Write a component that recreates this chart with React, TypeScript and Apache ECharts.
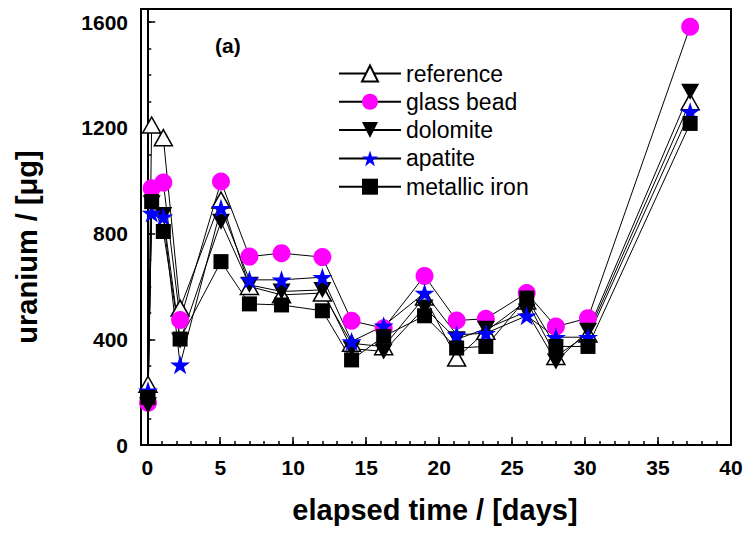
import React, { useEffect, useRef } from "react";
import * as echarts from "echarts";

const times = [0.05, 0.3, 1.1, 2.25, 5.05, 7.0, 9.2, 12.0, 14.0, 16.2, 19.0, 21.2, 23.2, 26.0, 28.0, 30.2, 37.2];
const reference = [230, 1211, 1163, 518, 927, 600, 568, 575, 385, 372, 560, 329, 430, 545, 335, 420, 1299];
const glassBead = [160, 972, 993, 473, 997, 713, 726, 711, 470, 442, 640, 471, 478, 575, 448, 480, 1583];
const dolomite = [150, 915, 870, 395, 845, 606, 581, 587, 365, 354, 520, 400, 440, 505, 316, 432, 1337];
const apatite = [205, 878, 864, 304, 896, 625, 625, 635, 392, 451, 575, 417, 423, 489, 408, 408, 1261];
const metallicIron = [180, 921, 808, 401, 694, 534, 530, 508, 322, 411, 489, 367, 373, 556, 373, 373, 1217];

const xMajor = [0, 5, 10, 15, 20, 25, 30, 35, 40];
const xMinor = Array.from({ length: 41 }, (_, i) => i);
const yMajor = [0, 400, 800, 1200, 1600];
const yMinor = Array.from({ length: 17 }, (_, i) => i * 100);

const FONT = "'Liberation Sans', Arial, sans-serif";
const STAR = "path://M50,0 L61.2,34.5 L97.6,34.5 L68.2,55.9 L79.4,90.5 L50,69.1 L20.6,90.5 L31.8,55.9 L2.4,34.5 L38.8,34.5 Z";

const pts = (vals: number[]) => times.map((t, i) => [t, vals[i]]);

export default function App() {
  const ref = useRef<HTMLDivElement>(null);
  useEffect(() => {
    document.body.style.margin = "0";
    const chart = echarts.init(ref.current!, null, { renderer: "svg" });
    const line = { color: "#000", width: 1 };
    const axisCommon = {
      type: "value" as const,
      splitLine: { show: false },
    };
    chart.setOption({
      animation: false,
      backgroundColor: "#fff",
      grid: { left: 141, right: 15, top: 9, bottom: 89, show: true, borderColor: "#000", borderWidth: 2 },
      xAxis: [
        {
          ...axisCommon,
          min: -0.43,
          max: 40,
          position: "bottom",
          axisLine: { show: true, lineStyle: { color: "#000", width: 2 } },
          axisTick: { show: true, inside: true, length: 8, customValues: xMajor, lineStyle: { color: "#000", width: 1.5 } },
          axisLabel: { customValues: xMajor, fontSize: 21, fontWeight: "bold", color: "#000", fontFamily: FONT, margin: 12, formatter: (v: number) => String(v) },
        },
        {
          ...axisCommon,
          min: -0.43,
          max: 40,
          position: "bottom",
          axisLine: { show: false },
          axisTick: { show: true, inside: true, length: 4, customValues: xMinor, lineStyle: { color: "#000", width: 1.5 } },
          axisLabel: { show: false },
        },
      ],
      yAxis: [
        {
          ...axisCommon,
          min: 0,
          max: 1650,
          position: "left",
          axisLine: { show: true, lineStyle: { color: "#000", width: 2 } },
          axisTick: { show: true, inside: true, length: 8, customValues: yMajor, lineStyle: { color: "#000", width: 1.5 } },
          axisLabel: { customValues: yMajor, fontSize: 21, fontWeight: "bold", color: "#000", fontFamily: FONT, margin: 13, formatter: (v: number) => String(v) },
        },
        {
          ...axisCommon,
          min: 0,
          max: 1650,
          position: "left",
          axisLine: { show: false },
          axisTick: { show: true, inside: true, length: 4, customValues: yMinor, lineStyle: { color: "#000", width: 1.5 } },
          axisLabel: { show: false },
        },
      ],
      legend: {
        orient: "vertical",
        left: 338,
        top: 62,
        padding: 0,
        itemWidth: 62,
        itemHeight: 20,
        itemGap: 5.3,
        data: ["reference", "glass bead", "dolomite", "apatite", "metallic iron"],
        textStyle: { fontSize: 23, color: "#000", fontFamily: FONT, lineHeight: 22 },
      },
      graphic: [
        {
          type: "text",
          left: 215,
          top: 35,
          style: { text: "(a)", fontSize: 21, fontWeight: "bold", fill: "#000", fontFamily: FONT },
        },
        {
          type: "text",
          x: 435,
          y: 510,
          style: { text: "elapsed time / [days]", fontSize: 29, fontWeight: "bold", fill: "#000", fontFamily: FONT, align: "center", verticalAlign: "middle" },
        },
        {
          type: "text",
          x: 27,
          y: 247,
          rotation: Math.PI / 2,
          style: { text: "uranium / [\u03bcg]", fontSize: 29, fontWeight: "bold", fill: "#000", fontFamily: FONT, align: "center", verticalAlign: "middle" },
        },
      ],
      series: [
        {
          name: "reference",
          type: "line",
          data: pts(reference),
          symbol: "triangle",
          symbolSize: [18, 16],
          lineStyle: line,
          itemStyle: { color: "#fff", borderColor: "#000", borderWidth: 1.5 },
        },
        {
          name: "refdot",
          type: "scatter",
          data: pts(reference),
          symbol: "circle",
          symbolSize: 2,
          itemStyle: { color: "#000" },
        },
        {
          name: "glass bead",
          type: "line",
          data: pts(glassBead),
          symbol: "circle",
          symbolSize: 18,
          lineStyle: line,
          itemStyle: { color: "#ff00ff", borderWidth: 0 },
        },
        {
          name: "dolomite",
          type: "line",
          data: pts(dolomite),
          symbol: "triangle",
          symbolRotate: 180,
          symbolSize: [18, 16],
          lineStyle: line,
          itemStyle: { color: "#000", borderWidth: 0 },
        },
        {
          name: "apatite",
          type: "line",
          data: pts(apatite),
          symbol: STAR,
          symbolSize: 20,
          symbolKeepAspect: true,
          lineStyle: line,
          itemStyle: { color: "#0000ff", borderWidth: 0 },
        },
        {
          name: "metallic iron",
          type: "line",
          data: pts(metallicIron),
          symbol: "rect",
          symbolSize: 15,
          lineStyle: line,
          itemStyle: { color: "#000", borderWidth: 0 },
        },
      ],
    });
    return () => chart.dispose();
  }, []);
  return <div ref={ref} style={{ width: 746, height: 534 }} />;
}
